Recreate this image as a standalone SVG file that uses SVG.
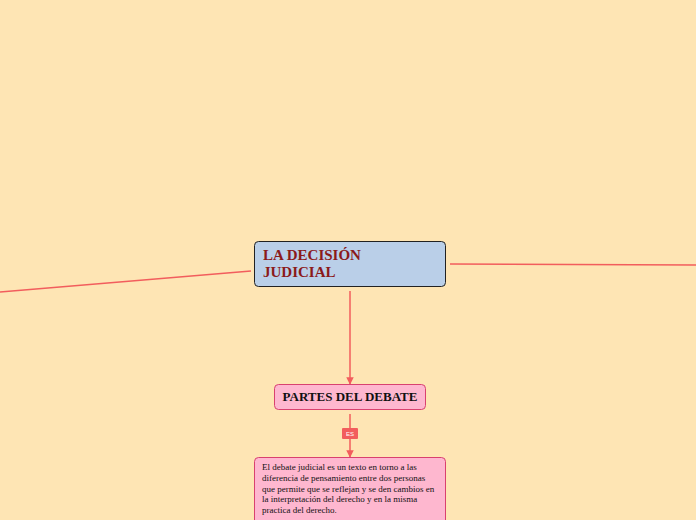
<svg xmlns="http://www.w3.org/2000/svg" width="696" height="520" viewBox="0 0 696 520">
<defs>
<style>
.conn{stroke:#f25d5d;stroke-width:1.5;fill:none}
.title{font-family:"Liberation Serif",serif;font-weight:bold;fill:#8b1a1a;font-size:15px}
.sub{font-family:"Liberation Serif",serif;font-weight:bold;fill:#111;font-size:13px}
.body{font-family:"Liberation Serif",serif;fill:#111;font-size:9px}
.pink{fill:#feb7cf;stroke:#d9416f;stroke-width:1}
</style>
<marker id="arr" viewBox="0 0 10 10" refX="9" refY="5" markerWidth="5" markerHeight="5" orient="auto">
<path d="M0,0 L10,5 L0,10 z" fill="#f25d5d"/>
</marker>
</defs>
<rect width="696" height="520" fill="#fee5b4"/>
<g id="connectors">
<line class="conn" x1="251" y1="271" x2="0" y2="292"/>
<line class="conn" x1="450" y1="264" x2="696" y2="265"/>
<line class="conn" x1="350" y1="291" x2="350" y2="384" marker-end="url(#arr)"/>
<line class="conn" x1="350" y1="414" x2="350" y2="457" marker-end="url(#arr)"/>
<rect x="342" y="428" width="16" height="11" rx="1" fill="#f25d5d"/>
<text x="350" y="436" font-family="Liberation Sans,sans-serif" font-size="6" fill="#fff" text-anchor="middle">ES</text>
</g>
<g id="main">
<rect x="254.5" y="241.5" width="191" height="45" rx="4" fill="#bacfe8" stroke="#222" stroke-width="1"/>
<text class="title" x="263" y="260">LA DECISIÓN</text>
<text class="title" x="263" y="277">JUDICIAL</text>
</g>
<g id="partes">
<rect class="pink" x="274.5" y="384.5" width="151" height="25" rx="4"/>
<text class="sub" x="350" y="401" text-anchor="middle">PARTES DEL DEBATE</text>
</g>
<g id="desc">
<rect class="pink" x="254.5" y="457.5" width="191" height="70" rx="4"/>
<text class="body" x="262" y="470">El debate judicial es un texto en torno a las</text>
<text class="body" x="262" y="481">diferencia de pensamiento entre dos personas</text>
<text class="body" x="262" y="492">que permite que se reflejan y se den cambios en</text>
<text class="body" x="262" y="502">la interpretación del derecho y en la misma</text>
<text class="body" x="262" y="513">practica del derecho.</text>
</g>
</svg>
